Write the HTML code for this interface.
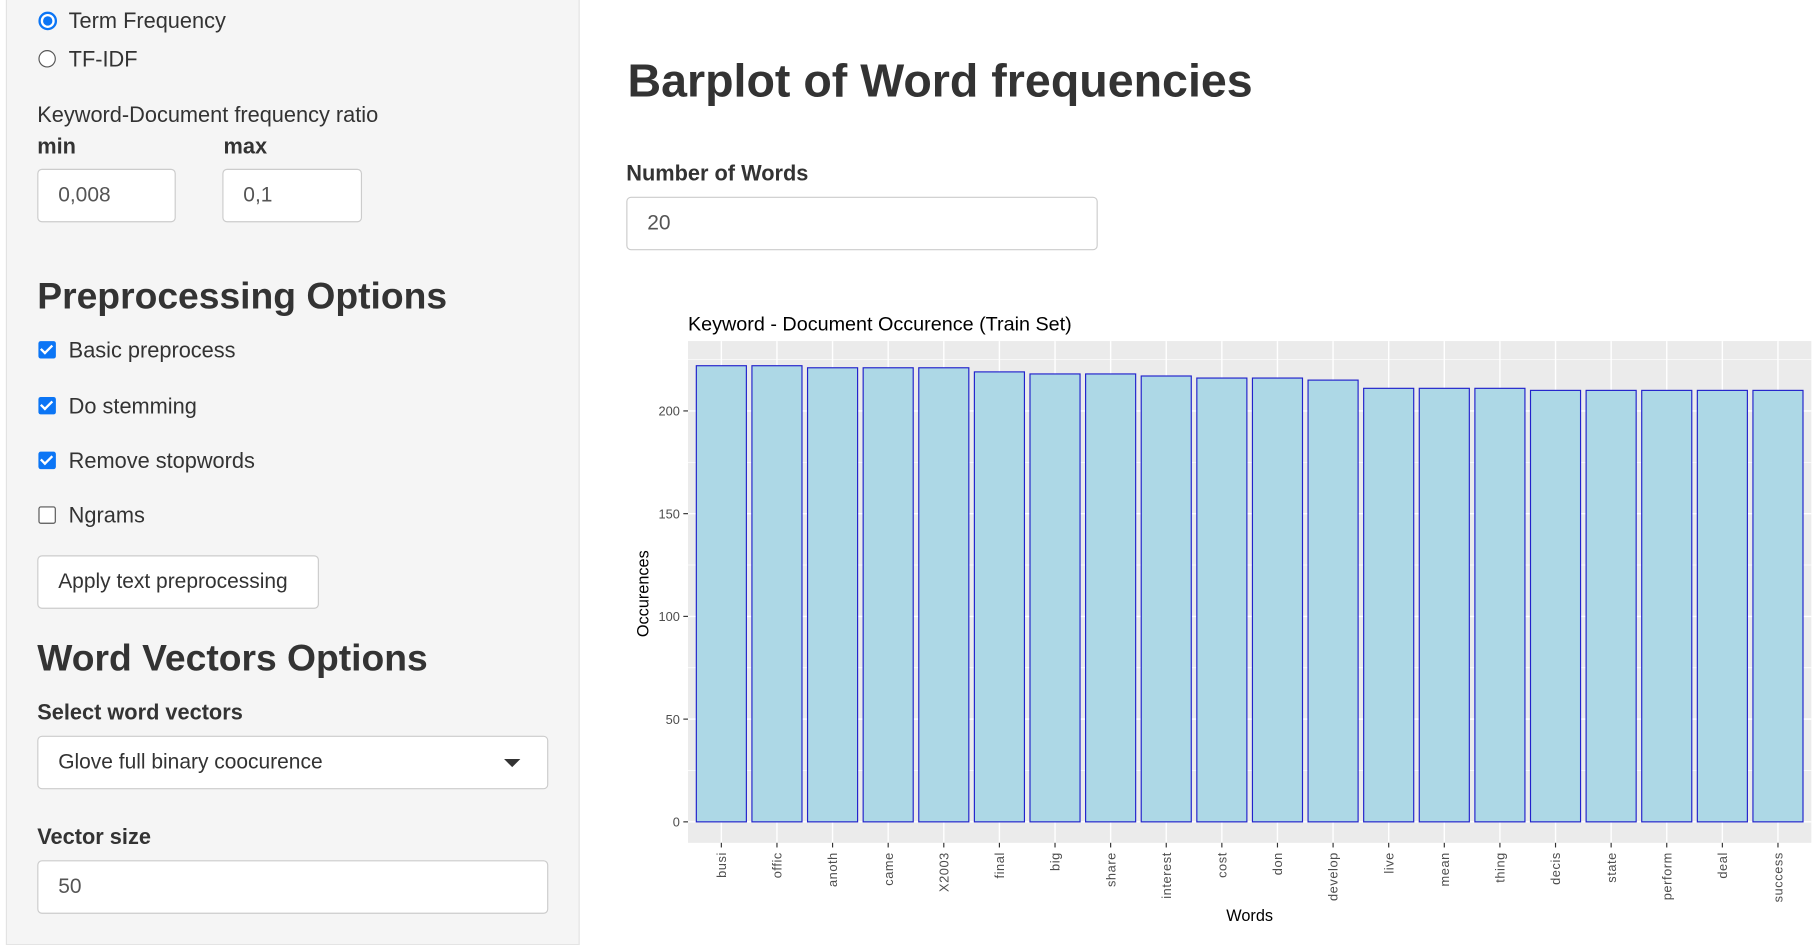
<!DOCTYPE html>
<html><head><meta charset="utf-8"><style>
html,body{margin:0;padding:0;width:1816px;height:922px;overflow:hidden;background:#fff;font-family:"Liberation Sans",sans-serif;color:#333}
#wrap{position:absolute;left:0;top:0;width:1560px;height:792px;transform:scale(1.1641);transform-origin:0 0}
.abs{position:absolute;white-space:nowrap}
#side{position:absolute;left:5px;top:-10px;width:491px;height:820px;background:#f5f5f5;border:1px solid #e3e3e3}
.lbl{font-size:18.7px;color:#333}
.b{font-weight:bold}
.inp{position:absolute;background:#fff;border:1px solid #ccc;border-radius:4px;box-sizing:border-box;font-size:18px;color:#555;padding-left:17px;line-height:43px}
h3,h1{margin:0;font-weight:bold;position:absolute;white-space:nowrap;color:#333}
.cb{position:absolute;left:33px;width:15px;height:15px;border-radius:2px;background:#0b75f5}
.cb::after{content:"";position:absolute;left:4px;top:1px;width:4px;height:8px;border:solid #fff;border-width:0 2px 2px 0;transform:rotate(45deg)}
</style></head><body>
<div id="wrap">
<div id="side"></div>
<div class="abs" style="left:32px;top:7px">
 <span style="position:absolute;left:1px;top:3px;width:12px;height:12px;border:2px solid #0b75f5;border-radius:50%;background:#fff"><span style="position:absolute;left:2px;top:2px;width:8px;height:8px;border-radius:50%;background:#0b75f5"></span></span>
 <span class="lbl" style="position:absolute;left:27px;top:0">Term Frequency</span></div>
<div class="abs" style="left:32px;top:40px">
 <span style="position:absolute;left:1px;top:3px;width:13px;height:13px;border:1px solid #555;border-radius:50%;background:#fff"></span>
 <span class="lbl" style="position:absolute;left:27px;top:0">TF-IDF</span></div>
<div class="abs lbl" style="left:32px;top:88px">Keyword-Document frequency ratio</div>
<div class="abs lbl b" style="left:32px;top:115px">min</div>
<div class="abs lbl b" style="left:192px;top:115px">max</div>
<div class="inp" style="left:32px;top:145px;width:119px;height:46px">0,008</div>
<div class="inp" style="left:191px;top:145px;width:120px;height:46px">0,1</div>
<h3 style="left:32px;top:236px;font-size:32px">Preprocessing Options</h3>
<div class="cb" style="top:293px"></div>
<div class="abs lbl" style="left:59px;top:290px">Basic preprocess</div>
<div class="cb" style="top:341px"></div>
<div class="abs lbl" style="left:59px;top:338px">Do stemming</div>
<div class="cb" style="top:388px"></div>
<div class="abs lbl" style="left:59px;top:385px">Remove stopwords</div>
<div class="abs" style="left:33px;top:435px;width:13px;height:13px;border:1px solid #555;border-radius:2px;background:#fff"></div>
<div class="abs lbl" style="left:59px;top:432px">Ngrams</div>
<div class="inp" style="left:32px;top:477px;width:242px;height:46px;color:#333">Apply text preprocessing</div>
<h3 style="left:32px;top:547px;font-size:32px">Word Vectors Options</h3>
<div class="abs lbl b" style="left:32px;top:601px">Select word vectors</div>
<div class="inp" style="left:32px;top:632px;width:439px;height:46px;color:#333">Glove full binary coocurence
 <span style="position:absolute;left:400px;top:19px;width:0;height:0;border-left:7px solid transparent;border-right:7px solid transparent;border-top:7px solid #333"></span></div>
<div class="abs lbl b" style="left:32px;top:708px">Vector size</div>
<div class="inp" style="left:32px;top:739px;width:439px;height:46px">50</div>

<h1 style="left:539px;top:48px;font-size:40px">Barplot of Word frequencies</h1>
<div class="abs lbl b" style="left:538px;top:138px">Number of Words</div>
<div class="inp" style="left:538px;top:169px;width:405px;height:46px">20</div>

<svg id="chart" style="position:absolute;left:0;top:0" width="1560" height="792" font-family="Liberation Sans, sans-serif"></svg>
</div>
<script>
const words=["busi","offic","anoth","came","X2003","final","big","share","interest","cost","don","develop","live","mean","thing","decis","state","perform","deal","success"];
const counts=[222,222,221,221,221,219,218,218,217,216,216,215,211,211,211,210,210,210,210,210];
const yTicks=[0,50,100,150,200];
const yMinor=[25,75,125,175,225];
const NS="http://www.w3.org/2000/svg";
const svg=document.getElementById('chart');
const PL=591,PR=1556,PT=293,PB=724;
const step=(PR-PL)/(words.length+0.2);
function xs(i){return PL+(0.6+i)*step;}
function ys(v){return 706-v*(706-353)/200;}
function mk(t,a){const e=document.createElementNS(NS,t);for(const k in a)e.setAttribute(k,a[k]);svg.appendChild(e);return e;}
let e;
e=mk('rect',{x:PL,y:PT,width:PR-PL,height:PB-PT,fill:'#ebebeb'});


yMinor.forEach(v=>{if(ys(v)>PT){e=mk('line',{x1:PL,x2:PR,y1:ys(v),y2:ys(v),stroke:'#fff','stroke-width':0.6});

}});
yTicks.forEach(v=>{e=mk('line',{x1:PL,x2:PR,y1:ys(v),y2:ys(v),stroke:'#fff','stroke-width':1.2});


e=mk('line',{x1:PL-4,x2:PL,y1:ys(v),y2:ys(v),stroke:'#333','stroke-width':1});


e=mk('text',{x:PL-7,y:ys(v)+4,'font-size':11,fill:'#4d4d4d','text-anchor':'end'});e.textContent=v;

});
words.forEach((w,i)=>{const cx=xs(i);
e=mk('line',{x1:cx,x2:cx,y1:PT,y2:PB,stroke:'#fff','stroke-width':1.2});

});
words.forEach((w,i)=>{const cx=xs(i),bw=step*0.9;
e=mk('rect',{x:cx-bw/2,y:ys(counts[i]),width:bw,height:ys(0)-ys(counts[i]),fill:'#add8e6',stroke:'#2222cc','stroke-width':1});


e=mk('line',{x1:cx,x2:cx,y1:PB,y2:PB+4,stroke:'#333','stroke-width':1});


e=mk('text',{x:0,y:0,'font-size':11,fill:'#4d4d4d','text-anchor':'end',transform:`translate(${cx+4},${PB+8}) rotate(-90)`,'letter-spacing':'0.5'});e.textContent=w;

});
e=mk('text',{x:591,y:284,'font-size':17,fill:'#000'});e.textContent='Keyword - Document Occurence (Train Set)';


e=mk('text',{x:0,y:0,'font-size':14,fill:'#000','text-anchor':'middle',transform:'translate(557,510) rotate(-90)'});e.textContent='Occurences';


e=mk('text',{x:(PL+PR)/2,y:791,'font-size':14,fill:'#000','text-anchor':'middle'});e.textContent='Words';


</script>
</body></html>
